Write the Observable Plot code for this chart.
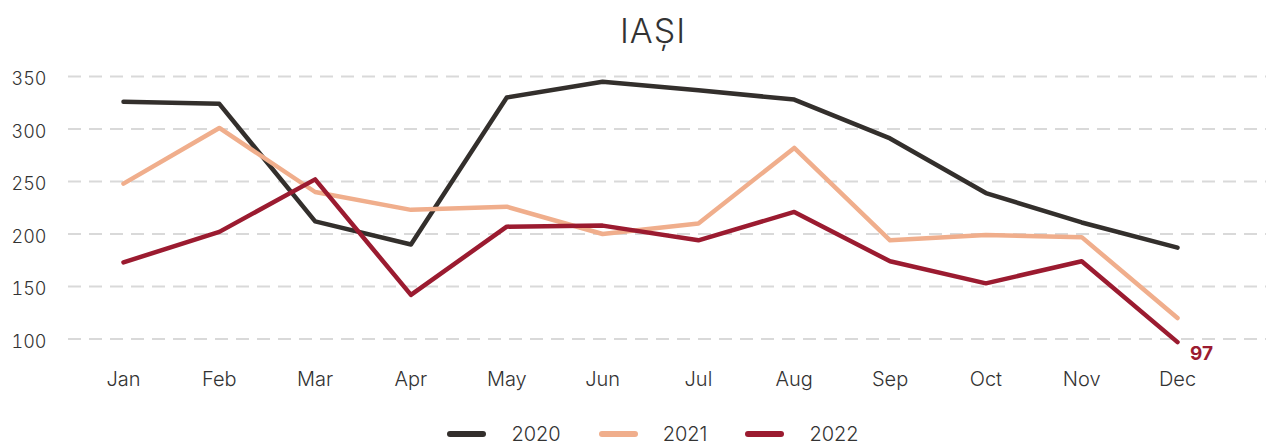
<!DOCTYPE html>
<html>
<head>
<meta charset="utf-8">
<script src="https://cdn.jsdelivr.net/npm/d3@7"></script>
<script src="https://cdn.jsdelivr.net/npm/@observablehq/plot@0.6"></script>
<style>
  html, body { margin: 0; padding: 0; background: #fff; }
  body { width: 1266px; height: 444px; overflow: hidden; font-family: Inter, "Noto Sans", sans-serif; }
  #title { height: 58px; text-align: center; font-size: 34px; font-weight: 300; color: #333; line-height: 62px; letter-spacing: 1px; padding-left: 40px; box-sizing: border-box; }
  #legend { display: flex; justify-content: center; align-items: center; height: 52px; font-size: 20px; color: #333; font-weight: 300; padding-left: 40px; box-sizing: border-box; }
  .item { display: flex; align-items: center; margin: 0 19px; }
  .sw { width: 39px; height: 6px; border-radius: 3px; margin-right: 25px; }
</style>
</head>
<body>
<div id="title">IAȘI</div>
<div id="chart"></div>
<div id="legend"></div>
<script>
const months = ["Jan","Feb","Mar","Apr","May","Jun","Jul","Aug","Sep","Oct","Nov","Dec"];
const years = ["2020","2021","2022"];
const v2020 = [326,324,212,190,330,345,337,328,291,239,211,187];
const v2021 = [248,301,240,223,226,200,210,282,194,199,197,120];
const v2022 = [173,202,252,142,207,208,194,221,174,153,174,97];
const yTicks = [100,150,200,250,300,350];
const colors = ["#332f2c","#f0ae8c","#9b1b30"];
const series = [v2020, v2021, v2022];

const data = [];
years.forEach((y, i) => months.forEach((m, j) => data.push({year: y, month: m, value: series[i][j]})));
const last = [{month: months[11], value: v2022[11], label: String(v2022[11])}];

const plot = Plot.plot({
  width: 1266,
  height: 350,
  marginLeft: 68,
  marginRight: 0,
  marginTop: 18,
  marginBottom: 69.5,
  style: {fontFamily: "Inter, 'Noto Sans', sans-serif", fontSize: "18px", color: "#333", background: "transparent"},
  x: {type: "point", domain: months, range: [123, 1177], padding: 0, round: false},
  y: {domain: [100, 350]},
  color: {domain: years, range: colors},
  marks: [
    Plot.ruleY(yTicks, {stroke: "#d9d9d9", strokeWidth: 2, strokeDasharray: "13,8"}),
    Plot.axisY(yTicks, {tickSize: 0, tickPadding: 57, textAnchor: "start", dy: 3, label: null, fill: "#333", fontWeight: 300}),
    Plot.axisX({tickSize: 0, tickPadding: 33, label: null, fill: "#333", fontWeight: 300, fontSize: 20}),
    Plot.line(data, {x: "month", y: "value", z: "year", stroke: "year", strokeWidth: 4.5, strokeLinecap: "round", strokeLinejoin: "round"}),
    Plot.text(last, {x: "month", y: "value", text: "label", dx: 24, dy: 12, fill: colors[2], fontWeight: "bold", fontSize: 19})
  ]
});
document.getElementById("chart").appendChild(plot);

const legend = document.getElementById("legend");
years.forEach((y, i) => {
  const item = document.createElement("div");
  item.className = "item";
  const sw = document.createElement("div");
  sw.className = "sw";
  sw.style.background = colors[i];
  const t = document.createElement("span");
  t.textContent = y;
  item.appendChild(sw);
  item.appendChild(t);
  legend.appendChild(item);
});
</script>
</body>
</html>
